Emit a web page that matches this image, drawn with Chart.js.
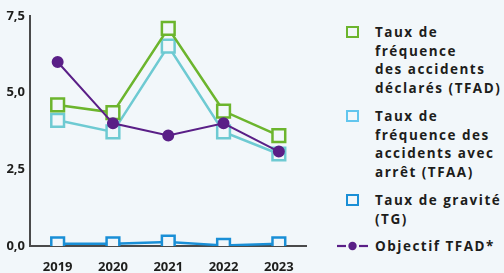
<!DOCTYPE html>
<html>
<head>
<meta charset="utf-8">
<script src="https://cdn.jsdelivr.net/npm/chart.js@4/dist/chart.umd.min.js"></script>
<style>
  html, body { margin: 0; padding: 0; background: #f2f7fa; width: 504px; height: 273px; overflow: hidden; }
  #wrap { position: absolute; left: -8px; top: 0; width: 326px; height: 273px; }
  #legend { position: absolute; left: 336px; top: 0; font-family: "Open Sans", sans-serif; font-weight: 700; font-size: 13.5px; letter-spacing: 1.5px; color: #1d1d1b; }
  .item { position: absolute; left: 0; white-space: nowrap; line-height: 18.7px; }
  .box { position: absolute; left: 10px; width: 9px; height: 8px; border: 2px solid; top: 4px; }
  .txt { position: absolute; left: 39px; top: -9px; }
  .dash { position: absolute; left: 1px; top: 0; width: 31px; height: 2px; }
</style>
</head>
<body>
<div id="wrap"><canvas id="chart"></canvas></div>
<div id="legend">
  <div class="item" style="top:32px"><div class="box" style="border-color:#6cb52d;top:-6px"></div><div class="txt">Taux de<br>fréquence<br>des accidents<br>déclarés (TFAD)</div></div>
  <div class="item" style="top:116px"><div class="box" style="border-color:#62c6ee;top:-6px"></div><div class="txt">Taux de<br>fréquence des<br>accidents avec<br>arrêt (TFAA)</div></div>
  <div class="item" style="top:200px"><div class="box" style="border-color:#1a8fd6;top:-6px"></div><div class="txt">Taux de gravité<br>(TG)</div></div>
  <div class="item" style="top:246px">
    <svg class="dash" style="top:-5px;height:10px" width="31" height="10"><line x1="0" y1="5" x2="9" y2="5" stroke="#5a1f87" stroke-width="2.2"/><line x1="22" y1="5" x2="31" y2="5" stroke="#5a1f87" stroke-width="2.2"/><circle cx="15.5" cy="5" r="4.2" fill="#5a1f87"/></svg>
    <div class="txt">Objectif TFAD*</div></div>
</div>
<script>
const years = ["2019", "2020", "2021", "2022", "2023"];
const tfad = [4.6, 4.35, 7.1, 4.4, 3.6];
const tfaa = [4.1, 3.72, 6.52, 3.72, 3.0];
const tg = [0.07, 0.07, 0.13, 0.02, 0.07];
const objectifTfad = [6.0, 4.0, 3.6, 4.0, 3.08];
const yTicks = [0, 2.5, 5, 7.5];

const bg = '#f2f7fa';
const ctx = document.getElementById('chart').getContext('2d');
new Chart(ctx, {
  type: 'line',
  data: {
    labels: years,
    datasets: [{
      label: 'Objectif TFAD*',
      data: objectifTfad,
      borderColor: '#5a1f87',
      backgroundColor: '#5a1f87',
      borderWidth: 2,
      pointStyle: 'circle',
      pointRadius: 5,
      order: 0
    }, {
      label: 'TFAD',
      data: tfad,
      borderColor: '#6cb52d',
      backgroundColor: bg,
      borderWidth: 2.5,
      pointStyle: 'rect',
      pointRadius: 9,
      order: 1
    }, {
      label: 'TFAA',
      data: tfaa,
      borderColor: '#6ecad2',
      backgroundColor: bg,
      borderWidth: 2.5,
      pointStyle: 'rect',
      pointRadius: 9,
      order: 2
    }, {
      label: 'TG',
      data: tg,
      borderColor: '#1a8fd6',
      backgroundColor: bg,
      borderWidth: 2.5,
      pointStyle: 'rect',
      pointRadius: 9,
      order: 3
    }]
  },
  options: {
    responsive: true,
    maintainAspectRatio: false,
    animation: false,
    layout: { padding: { top: 16, right: 0, left: 0, bottom: 0 } },
    plugins: { legend: { display: false }, tooltip: { enabled: false } },
    scales: {
      x: {
        offset: true,
        afterFit: s => { s.height = 27; },
        grid: { display: false, drawTicks: false },
        border: { color: '#4a4a4a', width: 2 },
        ticks: { color: '#1d1d1b', padding: 13, font: { family: 'Open Sans', weight: 'bold', size: 13 } }
      },
      y: {
        min: 0,
        max: 7.5,
        afterBuildTicks: s => { s.ticks = yTicks.map(v => ({ value: v })); },
        afterFit: s => { s.width = 38; },
        grid: { display: false, drawTicks: false },
        border: { color: '#4a4a4a', width: 2 },
        ticks: {
          color: '#1d1d1b', padding: 5,
          font: { family: 'Open Sans', weight: 'bold', size: 13 },
          callback: v => v.toFixed(1).replace('.', ',')
        }
      }
    }
  }
});
</script>
</body>
</html>
